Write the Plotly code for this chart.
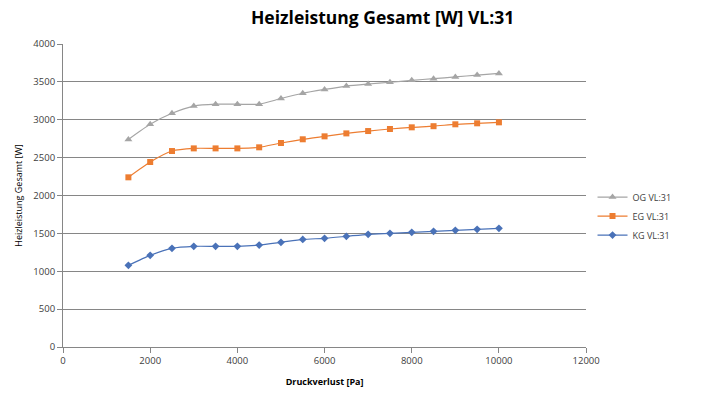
import plotly.graph_objects as go

x_pa = [1500, 2000, 2500, 3000, 3500, 4000, 4500, 5000, 5500, 6000, 6500, 7000, 7500, 8000, 8500, 9000, 9500, 10000]
og = [2740, 2940, 3085, 3180, 3205, 3205, 3205, 3280, 3350, 3400, 3445, 3472, 3495, 3520, 3542, 3565, 3590, 3612]
eg = [2240, 2442, 2587, 2622, 2622, 2622, 2636, 2693, 2742, 2781, 2820, 2851, 2878, 2900, 2915, 2940, 2953, 2966]
kg = [1078, 1210, 1303, 1329, 1329, 1329, 1346, 1382, 1420, 1435, 1461, 1488, 1501, 1514, 1527, 1540, 1554, 1567]
x_ticks = [0, 2000, 4000, 6000, 8000, 10000, 12000]
y_ticks = [0, 500, 1000, 1500, 2000, 2500, 3000, 3500, 4000]

series = [
    ("OG VL:31", og, "#A5A5A5", "triangle-up", 7),
    ("EG VL:31", eg, "#ED7D31", "square", 6),
    ("KG VL:31", kg, "#4A72B8", "diamond", 6),
]

fig = go.Figure()
for name, ys, col, sym, sz in series:
    fig.add_trace(go.Scatter(
        x=x_pa, y=ys, name=name, mode="lines+markers",
        line=dict(color=col, width=1.2, shape="spline", smoothing=0.6),
        marker=dict(symbol=sym, size=sz, color=col),
    ))

fig.update_layout(
    width=702, height=396,
    margin=dict(l=63, r=10, t=44, b=49),
    paper_bgcolor="white", plot_bgcolor="white",
    font=dict(family="Open Sans, Liberation Sans, sans-serif", color="#404040", size=9.5),
    title=dict(text="<b>Heizleistung Gesamt [W] VL:31</b>", x=0.545, xanchor="center", y=0.955, yanchor="middle",
               font=dict(size=17.5, color="#000000", family="Open Sans, sans-serif")),
    legend=dict(x=0.861, y=0.432, xanchor="left", yanchor="middle",
                font=dict(size=9, color="#404040"), itemwidth=30, tracegroupgap=6,
                bgcolor="rgba(0,0,0,0)"),
    showlegend=True,
)
fig.update_xaxes(
    domain=[0, 0.8506],
    range=[0, 12000], tickvals=x_ticks, ticktext=[str(v) for v in x_ticks],
    showgrid=False, showline=True, linecolor="#868686", linewidth=1,
    ticks="outside", ticklen=5, tickcolor="#868686", zeroline=False, automargin=True,
    title=dict(text="<b>Druckverlust [Pa]</b>", font=dict(size=9, color="#000000"), standoff=12),
)
fig.update_yaxes(
    range=[0, 4000], tickvals=y_ticks, ticktext=[str(v) for v in y_ticks],
    showgrid=True, gridcolor="#868686", gridwidth=1,
    showline=True, linecolor="#868686", linewidth=1,
    ticks="outside", ticklen=5, tickcolor="#868686", zeroline=False, automargin=True,
    title=dict(text="Heizleistung Gesamt [W]", font=dict(size=9, color="#000000"), standoff=9),
)

fig.write_html("out.html", config={"displayModeBar": False},
               post_script="document.body.style.margin='0px';")
